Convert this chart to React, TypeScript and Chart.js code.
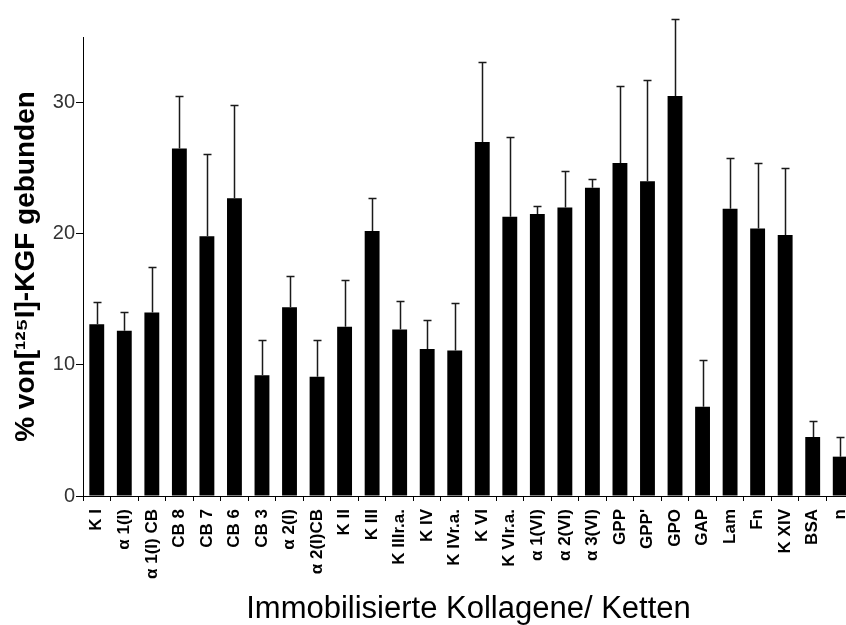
import React, { useEffect, useRef } from "react";
import { Chart, registerables } from "chart.js";

Chart.register(...registerables);

const categories = [
  "K I", "α 1(I)", "α 1(I) CB", "CB 8", "CB 7", "CB 6", "CB 3", "α 2(I)", "α 2(I)CB",
  "K II", "K III", "K IIIr.a.", "K IV", "K IVr.a.", "K VI", "K VIr.a.", "α 1(VI)",
  "α 2(VI)", "α 3(VI)", "GPP", "GPP'", "GPO", "GAP", "Lam", "Fn", "K XIV", "BSA", "n",
];

const means = [
  13.1, 12.6, 14.0, 26.5, 19.8, 22.7, 9.2, 14.4, 9.1,
  12.9, 20.2, 12.7, 11.2, 11.1, 27.0, 21.3, 21.5,
  22.0, 23.5, 25.4, 24.0, 30.5, 6.8, 21.9, 20.4, 19.9, 4.5, 3.0,
];

const errors = [
  1.7, 1.4, 3.5, 4.0, 6.3, 7.1, 2.7, 2.4, 2.8,
  3.6, 2.5, 2.2, 2.2, 3.6, 6.1, 6.1, 0.6,
  2.8, 0.7, 5.9, 7.7, 5.9, 3.6, 3.9, 5.0, 5.1, 1.2, 1.5,
];

const yTicks = [0, 10, 20, 30];
const yMax = 35;

const yTitle = "% von[¹²⁵I]-KGF gebunden";
const xTitle = "Immobilisierte Kollagene/ Ketten";

const FONT = '"Liberation Sans", Arial, Helvetica, sans-serif';

const errorBarPlugin = {
  id: "errorBars",
  afterDatasetsDraw(chart: any) {
    const { ctx } = chart;
    const meta = chart.getDatasetMeta(0);
    const yScale = chart.scales.y;
    ctx.save();
    ctx.strokeStyle = "#1a1a1a";
    ctx.lineWidth = 1.5;
    meta.data.forEach((bar: any, i: number) => {
      const x = Math.round(bar.x) + 0.5;
      const y0 = yScale.getPixelForValue(means[i]);
      const y1 = Math.round(yScale.getPixelForValue(means[i] + errors[i])) + 0.5;
      ctx.beginPath();
      ctx.moveTo(x, y0);
      ctx.lineTo(x, y1);
      ctx.moveTo(x - 4, y1);
      ctx.lineTo(x + 4, y1);
      ctx.stroke();
    });
    ctx.restore();
  },
};

export default function App() {
  const canvasRef = useRef<HTMLCanvasElement | null>(null);

  useEffect(() => {
    if (!canvasRef.current) return;
    const chart = new Chart(canvasRef.current, {
      type: "bar",
      data: {
        labels: categories,
        datasets: [
          {
            data: means,
            backgroundColor: "#000000",
            borderWidth: 0,
            barPercentage: 0.54,
            categoryPercentage: 1,
          },
        ],
      },
      options: {
        responsive: false,
        animation: false,
        devicePixelRatio: 1,
        layout: { padding: { top: 37, right: 16, bottom: 0, left: 0 } },
        plugins: {
          legend: { display: false },
          tooltip: { enabled: false },
        },
        scales: {
          x: {
            offset: true,
            grid: {
              offset: true,
              drawOnChartArea: false,
              drawTicks: true,
              tickLength: 5,
              color: "#000000",
            },
            border: { display: true, color: "#000000", width: 1 },
            ticks: {
              autoSkip: false,
              maxRotation: 90,
              minRotation: 90,
              padding: 8,
              color: "#000000",
              font: { family: FONT, size: 17, weight: "bold" },
            },
            title: {
              display: true,
              text: xTitle,
              color: "#000000",
              padding: { top: 0, bottom: 0 },
              font: { family: FONT, size: 31, weight: "normal", lineHeight: 1 },
            },
            afterFit(scale: any) {
              scale.height = 129;
            },
          },
          y: {
            min: 0,
            max: yMax,
            grid: {
              drawOnChartArea: false,
              drawTicks: true,
              tickLength: 7,
              color: "#000000",
            },
            border: { display: true, color: "#000000", width: 1 },
            ticks: {
              stepSize: 10,
              includeBounds: false,
              padding: 1,
              color: "#333333",
              font: { family: FONT, size: 20, weight: "normal" },
            },
            afterBuildTicks(scale: any) {
              scale.ticks = yTicks.map((v) => ({ value: v }));
            },
            title: {
              display: true,
              text: yTitle,
              color: "#000000",
              padding: { top: 12, bottom: 0 },
              font: { family: FONT, size: 28, weight: "bold", lineHeight: 1 },
            },
            afterFit(scale: any) {
              scale.width = 83;
            },
          },
        },
      },
      plugins: [errorBarPlugin],
    });
    return () => chart.destroy();
  }, []);

  return (
    <div
      style={{
        position: "fixed",
        left: 0,
        top: 0,
        width: 846,
        height: 625,
        overflow: "hidden",
        background: "#ffffff",
      }}
    >
      <canvas ref={canvasRef} width={870} height={625} style={{ display: "block" }} />
    </div>
  );
}
